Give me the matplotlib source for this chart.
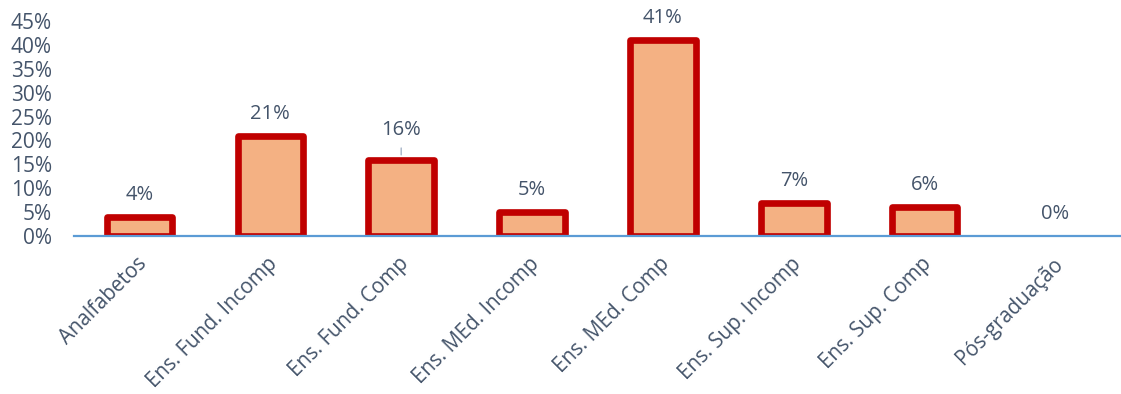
import matplotlib
matplotlib.use("Agg")
import matplotlib.pyplot as plt
import matplotlib.patheffects as pe
from matplotlib.transforms import ScaledTranslation
from matplotlib.ticker import PercentFormatter, MultipleLocator

categories = ["Analfabetos", "Ens. Fund. Incomp", "Ens. Fund. Comp", "Ens. MEd. Incomp",
              "Ens. MEd. Comp", "Ens. Sup. Incomp", "Ens. Sup. Comp", "Pós-graduação"]
values = [4, 21, 16, 5, 41, 7, 6, 0]  # percent

TEXT = "#44546A"
plt.rcParams["font.family"] = ["Open Sans", "DejaVu Sans"]

fig = plt.figure(figsize=(11.21, 3.94), dpi=100)
ax = fig.add_axes([74 / 1121, 1 - 236 / 394, 1 - 74 / 1121, (236 - 21) / 394])

x = list(range(len(categories)))
fracs = [v / 100 for v in values]
bars = ax.bar(x, fracs, width=0.50, color="#F4B183", edgecolor="#C00000",
              linewidth=4.8, joinstyle="round", zorder=2)
shadow = [pe.SimplePatchShadow(offset=(1.5, -1.5), shadow_rgbFace="black", alpha=0.12),
          pe.Normal()]
for b, v in zip(bars, values):
    if v == 0:
        b.set_visible(False)
    else:
        b.set_path_effects(shadow)

ax.axhline(0, color="#5B9BD5", linewidth=1.6, zorder=3, clip_on=False)

for xi, f, v in zip(x, fracs, values):
    off = 30 if v == 16 else 22
    ax.annotate(f"{v}%", (xi, f), xytext=(0, off), textcoords="offset pixels",
                ha="center", va="center", fontsize=14.5, color=TEXT, zorder=4)
    if v == 16:
        ax.annotate("", (xi, f + 0.004), xytext=(xi, f + 0.03),
                    arrowprops=dict(arrowstyle="-", color="#A5B3C7", lw=1.0))

ax.set_xlim(-0.5, len(categories) - 0.5)
ax.set_ylim(0, 0.45)
ax.yaxis.set_major_locator(MultipleLocator(0.05))
ax.yaxis.set_major_formatter(PercentFormatter(1.0, decimals=0))
ax.set_xticks(x)
ax.set_xticklabels(categories, rotation=45, ha="right", va="center", rotation_mode="anchor")
ax.tick_params(axis="y", length=0, pad=16, labelsize=15, labelcolor=TEXT)
ax.tick_params(axis="x", length=0, pad=18, labelsize=14.8, labelcolor=TEXT)
shift = ScaledTranslation(0.04, 0, fig.dpi_scale_trans)
for lab in ax.get_xticklabels():
    lab.set_transform(lab.get_transform() + shift)
for s in ax.spines.values():
    s.set_visible(False)

fig.savefig("out.png", dpi=100)
